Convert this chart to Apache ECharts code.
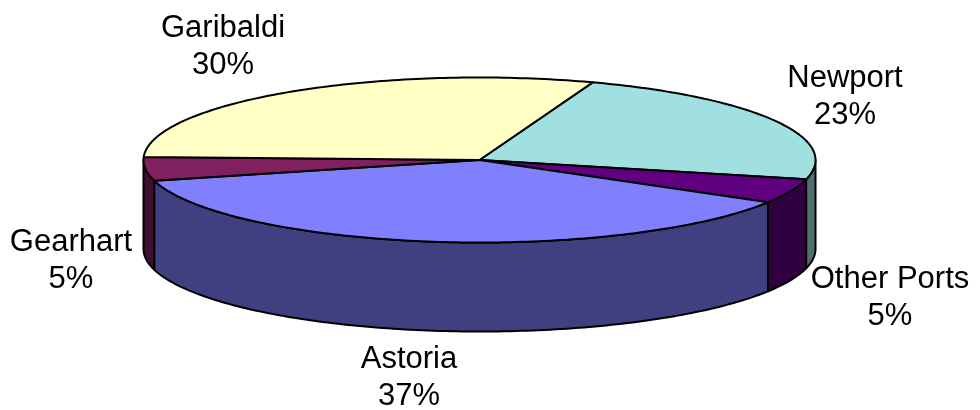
<!DOCTYPE html>
<html>
<head>
<meta charset="utf-8">
<title>Ports</title>
<script src="https://cdn.jsdelivr.net/npm/echarts@6/dist/echarts.min.js"></script>
<style>
  html, body { margin: 0; padding: 0; background: #fff; }
  #main { width: 980px; height: 410px; }
</style>
</head>
<body>
<div id="main"></div>
<script>
// clockwise from the Garibaldi/Newport edge
var ports = ['Newport', 'Other Ports', 'Astoria', 'Gearhart', 'Garibaldi'];
var shares = [23.3, 4.8, 37.4, 4.6, 29.9];  // labels show them rounded

var topColors = ['#a0e0e0', '#600080', '#8080ff', '#80205f', '#ffffc6'];
var sideColors = ['#507070', '#300040', '#404080', '#401030', '#808063'];
// centre of each label block
var labelSpots = [[845, 97], [890, 298], [409, 378], [71, 261], [223, 47]];

var cx = 479.5, cy = 160, rx = 336, ry = 82.5, depth = 89;
var startAngle = 19.7;  // degrees clockwise from 12 o'clock

function point(deg, drop) {
  var a = deg * Math.PI / 180;
  return [cx + rx * Math.sin(a), cy - ry * Math.cos(a) + (drop || 0)];
}

function arc(from, to, drop) {
  var pts = [];
  for (var d = from; d < to; d += 1) {
    pts.push(point(d, drop));
  }
  pts.push(point(to, drop));
  return pts;
}

var total = shares.reduce(function (s, v) { return s + v; }, 0);

function renderSlice(params, api) {
  var i = params.dataIndex;
  var before = 0;
  for (var k = 0; k < i; k++) before += shares[k];
  var from = startAngle + before / total * 360;
  var to = from + api.value(0) / total * 360;
  var line = { stroke: '#000', lineWidth: 2, lineJoin: 'round' };
  var children = [];

  // only the part of the rim between 3 and 9 o'clock faces the viewer
  var wallFrom = Math.max(from, 90), wallTo = Math.min(to, 270);
  if (wallFrom < wallTo) {
    var wall = arc(wallFrom, wallTo, 0).concat(arc(wallFrom, wallTo, depth).reverse());
    children.push({
      type: 'polygon',
      shape: { points: wall },
      style: Object.assign({ fill: sideColors[i] }, line)
    });
  }
  children.push({
    type: 'polygon',
    shape: { points: [[cx, cy]].concat(arc(from, to, 0)) },
    style: Object.assign({ fill: topColors[i] }, line)
  });
  var spot = labelSpots[i];
  children.push({
    type: 'text',
    x: spot[0],
    y: spot[1],
    style: {
      text: ports[i] + '\n' + Math.round(api.value(0)) + '%',
      fill: '#000',
      font: '31px "Liberation Sans", Arial, sans-serif',
      lineHeight: 37,
      align: 'center',
      verticalAlign: 'middle'
    }
  });
  return { type: 'group', children: children };
}

var myChart = echarts.init(document.getElementById('main'), null, { renderer: 'canvas' });
myChart.setOption({
  animation: false,
  backgroundColor: '#fff',
  series: [{
    type: 'custom',
    coordinateSystem: 'none',
    silent: true,
    clip: false,
    data: shares.map(function (v, i) { return { name: ports[i], value: [v] }; }),
    renderItem: renderSlice
  }]
});
</script>
</body>
</html>
